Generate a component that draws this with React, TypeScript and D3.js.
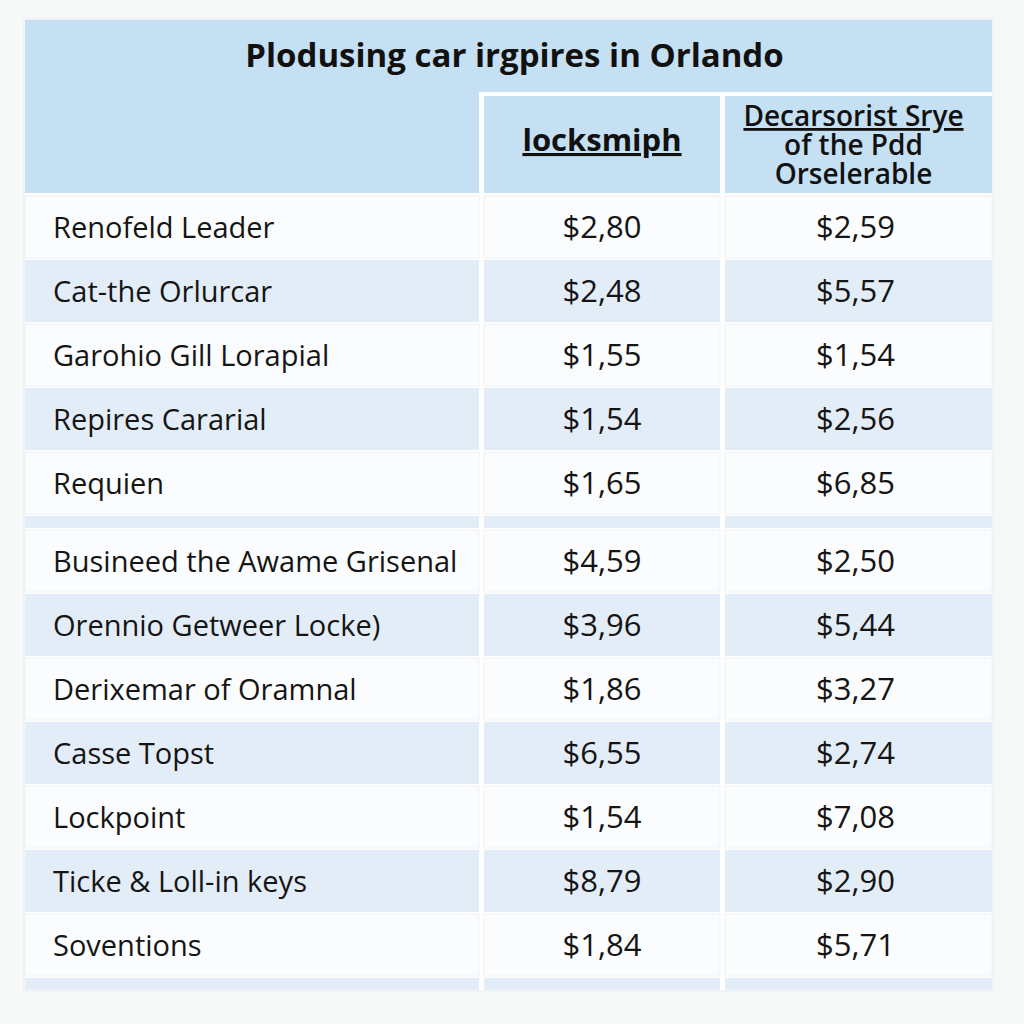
import * as d3 from "d3";

// table content
const title = "Plodusing car irgpires in Orlando";
const rowLabels = [
  "Renofeld Leader",
  "Cat-the Orlurcar",
  "Garohio Gill Lorapial",
  "Repires Cararial",
  "Requien",
  "Busineed the Awame Grisenal",
  "Orennio Getweer Locke)",
  "Derixemar of Oramnal",
  "Casse Topst",
  "Lockpoint",
  "Ticke & Loll-in keys",
  "Soventions",
];
const groupSizes = [5, 7];
const locksmithPrices = [2.8, 2.48, 1.55, 1.54, 1.65, 4.59, 3.96, 1.86, 6.55, 1.54, 8.79, 1.84];
const dealerPrices = [2.59, 5.57, 1.54, 2.56, 6.85, 2.5, 5.44, 3.27, 2.74, 7.08, 2.9, 5.71];
const priceHeaders = [["locksmiph"], ["Decarsorist Srye", "of the Pdd", "Orselerable"]];

const WIDTH = 1024;
const HEIGHT = 1024;
const tableLeft = 25;
const colWidths = [454, 236, 267];
const colGap = 5;
const titleTop = 20;
const titleBottom = 92;
const subHeadTop = 96;
const bodyTop = 196;
const rowStep = 64;
const stripStep = 14;

const headerBlue = "#c6e0f3";
const stripeBlue = "#e3edf7";
const lightCell = "#fbfcfd";
const font = "'Open Sans', 'DejaVu Sans', sans-serif";

const money = d3.formatLocale({
  decimal: ",",
  thousands: ".",
  grouping: [3],
  currency: ["$", ""],
}).format("$.2f");

type Slot = { kind: "row"; index: number } | { kind: "strip" };

export default function App() {
  // column edges
  const colLefts = colWidths.map(
    (_, i) => tableLeft + (d3.sum(colWidths.slice(0, i)) || 0) + i * colGap
  );
  const tableRight = colLefts[2] + colWidths[2];
  const colX = d3.scaleOrdinal<number, number>().domain([0, 1, 2]).range(colLefts);
  const colW = (i: number) => colWidths[i];

  // slots: rows of each group followed by a thin blue strip
  const slots: Slot[] = [];
  let idx = 0;
  groupSizes.forEach((n) => {
    for (let k = 0; k < n; k++) slots.push({ kind: "row", index: idx++ });
    slots.push({ kind: "strip" });
  });
  const steps = slots.map((s) => (s.kind === "row" ? rowStep : stripStep));
  const tops = [0, ...Array.from(d3.cumsum(steps))].map((v) => bodyTop + v);

  const rows = rowLabels.map((label, i) => ({
    label,
    values: [locksmithPrices[i], dealerPrices[i]],
  }));

  return (
    <svg
      width={WIDTH}
      height={HEIGHT}
      viewBox={`0 0 ${WIDTH} ${HEIGHT}`}
      style={{ position: "absolute", left: 0, top: 0, fontFamily: font }}
    >
      <rect width={WIDTH} height={HEIGHT} fill="#f7f8f8" />
      <rect
        x={tableLeft - 1}
        y={titleTop - 1}
        width={tableRight - tableLeft + 2}
        height={tops[tops.length - 1] - titleTop}
        fill="#ffffff"
        stroke="#e8ecef"
      />

      {/* header */}
      <rect
        x={tableLeft}
        y={titleTop}
        width={tableRight - tableLeft}
        height={titleBottom - titleTop}
        fill={headerBlue}
      />
      <rect
        x={colX(0)}
        y={titleTop}
        width={colW(0)}
        height={bodyTop - 3 - titleTop}
        fill={headerBlue}
      />
      {[1, 2].map((c) => (
        <rect
          key={c}
          x={colX(c)}
          y={subHeadTop}
          width={colW(c)}
          height={bodyTop - 3 - subHeadTop}
          fill={headerBlue}
        />
      ))}
      <text
        x={(tableLeft + tableRight) / 2 + 6}
        y={67}
        textAnchor="middle"
        fontSize={33}
        fontWeight={700}
        fill="#111"
      >
        {title}
      </text>
      <text
        x={colX(1) + colW(1) / 2}
        y={151}
        textAnchor="middle"
        fontSize={31}
        fontWeight={700}
        fill="#111"
        textDecoration="underline"
      >
        {priceHeaders[0][0]}
      </text>
      {priceHeaders[1].map((line, i) => (
        <text
          key={line}
          x={colX(2) + colW(2) / 2 - 5}
          y={126 + i * 29}
          textAnchor="middle"
          fontSize={28}
          fontWeight={600}
          fill="#111"
          textDecoration={i === 0 ? "underline" : undefined}
        >
          {line}
        </text>
      ))}

      {/* body */}
      {slots.map((s, si) => {
        const y = tops[si];
        const blue = si % 2 === 1;
        const h = (s.kind === "row" ? rowStep : stripStep) - 2;
        return (
          <g key={si}>
            {[0, 1, 2].map((c) => (
              <rect
                key={c}
                x={colX(c)}
                y={y}
                width={colW(c)}
                height={h}
                fill={blue ? stripeBlue : lightCell}
                stroke={blue ? "none" : "#eef2f5"}
              />
            ))}
            {s.kind === "row" && (
              <>
                <text
                  x={colX(0) + 28}
                  y={y + h / 2 + 11}
                  fontSize={29}
                  fill="#151515"
                >
                  {rows[s.index].label}
                </text>
                {rows[s.index].values.map((v, k) => (
                  <text
                    key={k}
                    x={colX(k + 1) + colW(k + 1) / 2 - (k === 1 ? 3 : 0)}
                    y={y + h / 2 + 11}
                    textAnchor="middle"
                    fontSize={31}
                    fill="#151515"
                  >
                    {money(v)}
                  </text>
                ))}
              </>
            )}
          </g>
        );
      })}
    </svg>
  );
}
